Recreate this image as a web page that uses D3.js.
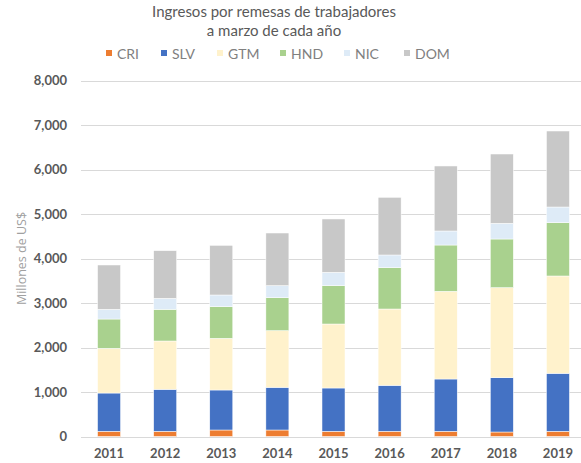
<!DOCTYPE html>
<html>
<head>
<meta charset="utf-8">
<script src="https://cdn.jsdelivr.net/npm/d3@7"></script>
<style>
  html, body { margin: 0; padding: 0; background: #fff; }
  svg { display: block; }
</style>
</head>
<body>
<svg id="chart" width="581" height="463"></svg>
<script>
const years = ["2011","2012","2013","2014","2015","2016","2017","2018","2019"];
const seriesNames = ["CRI","SLV","GTM","HND","NIC","DOM"];
const CRI = [117, 117, 146, 146, 117, 117, 117, 101, 117];
const SLV = [860, 943, 899, 959, 973, 1033, 1175, 1221, 1303];
const GTM = [1005, 1086, 1161, 1273, 1438, 1715, 1970, 2023, 2187];
const HND = [658, 712, 711, 742, 862, 929, 1041, 1093, 1198];
const NIC = [218, 247, 263, 270, 299, 285, 315, 352, 352];
const DOM = [996, 1071, 1116, 1183, 1199, 1296, 1461, 1558, 1708];
const yTicks = [0, 1000, 2000, 3000, 4000, 5000, 6000, 7000, 8000];
const colors = ["#ED7D31", "#4472C4", "#FFF2CC", "#A9D18E", "#DEEBF7", "#C8C8C8"];
const titleLines = ["Ingresos por remesas de trabajadores", "a marzo de cada año"];
const yTitle = "Millones de US$";

const seriesData = [CRI, SLV, GTM, HND, NIC, DOM];
const table = years.map((y, i) => {
  const row = { year: y };
  seriesNames.forEach((s, k) => row[s] = seriesData[k][i]);
  return row;
});

const svg = d3.select("#chart");
const W = 581, H = 463;
const plot = { left: 81, right: 586, top: 80.5, bottom: 436.5 };

const x = d3.scaleBand().domain(years).range([plot.left, plot.right]).paddingInner(0.59).paddingOuter(0.295);
const y = d3.scaleLinear().domain([0, 8000]).range([plot.bottom, plot.top]);

const textColor = "#595959";

// gridlines
svg.append("g").selectAll("line").data(yTicks).join("line")
  .attr("x1", plot.left).attr("x2", W)
  .attr("y1", d => Math.round(y(d)) + 0.5).attr("y2", d => Math.round(y(d)) + 0.5)
  .attr("stroke", "#D9D9D9").attr("stroke-width", 1);

// y axis labels
const yAxis = d3.axisLeft(y).tickValues(yTicks).tickSize(0).tickPadding(0).tickFormat(d3.format(","));
const gy = svg.append("g").attr("transform", `translate(67,0)`).call(yAxis);
gy.select(".domain").remove();
gy.selectAll("text").attr("fill", textColor).attr("font-family", "Lato, 'Open Sans', sans-serif")
  .attr("font-weight", "bold").attr("font-size", "13px");

// x axis labels
const xAxis = d3.axisBottom(x).tickSize(0).tickPadding(0);
const gx = svg.append("g").attr("transform", `translate(0,${plot.bottom + 12})`).call(xAxis);
gx.select(".domain").remove();
gx.selectAll("text").attr("fill", textColor).attr("font-family", "Lato, 'Open Sans', sans-serif")
  .attr("font-weight", "bold").attr("font-size", "13px").attr("dy", "0.71em");

// stacked bars
const stack = d3.stack().keys(seriesNames)(table);
svg.append("g").selectAll("g").data(stack).join("g")
  .attr("fill", (d, i) => colors[i])
  .selectAll("rect").data(d => d).join("rect")
  .attr("x", d => x(d.data.year))
  .attr("width", x.bandwidth())
  .attr("y", d => y(d[1]))
  .attr("height", d => y(d[0]) - y(d[1]))
  .attr("stroke", "#fff").attr("stroke-width", 0.5);

// title
svg.append("g").selectAll("text").data(titleLines).join("text")
  .attr("x", 274).attr("y", (d, i) => 17 + i * 19)
  .attr("text-anchor", "middle")
  .attr("fill", textColor).attr("font-family", "Lato, 'Noto Sans', sans-serif")
  .attr("font-size", "15px")
  .text(d => d);

// legend
const legendX = [106, 161, 217, 280, 344, 404];
const lg = svg.append("g").selectAll("g").data(seriesNames).join("g")
  .attr("transform", (d, i) => `translate(${legendX[i]},54)`);
lg.append("rect").attr("x", 0).attr("y", -4).attr("width", 6).attr("height", 6)
  .attr("fill", (d, i) => colors[i]);
lg.append("text").attr("x", 11).attr("y", 0).attr("dy", "0.35em")
  .attr("fill", "#808080").attr("font-family", "Lato, 'Noto Sans', sans-serif")
  .attr("font-size", "14px")
  .text(d => d);

// y title
svg.append("text")
  .attr("transform", `translate(22,${(plot.top + plot.bottom) / 2}) rotate(-90)`)
  .attr("text-anchor", "middle").attr("dy", "0.35em")
  .attr("fill", "#A0A0A0").attr("font-family", "'Open Sans', Lato, sans-serif")
  .attr("font-size", "12.5px")
  .text(yTitle);
</script>
</body>
</html>
